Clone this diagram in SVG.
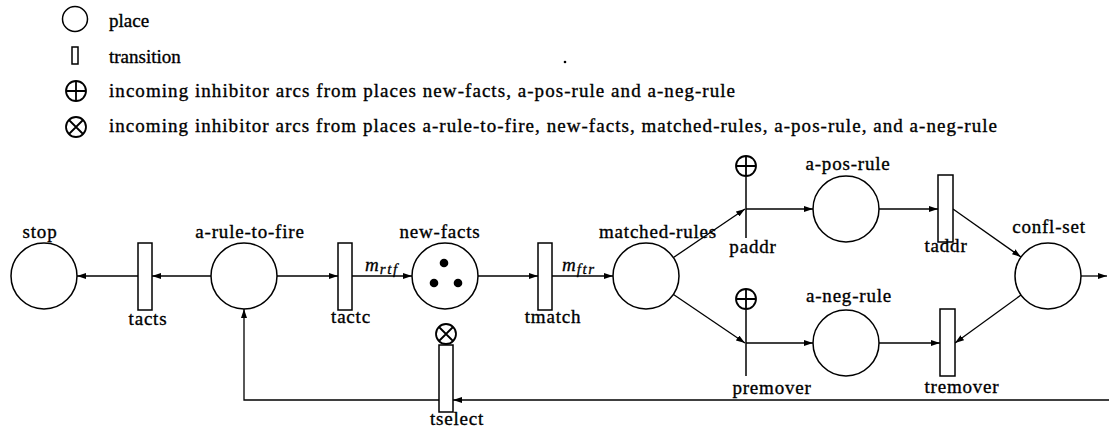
<svg xmlns="http://www.w3.org/2000/svg" width="1109" height="434" viewBox="0 0 1109 434">
  <style>
    .lbl { font-family: "Liberation Serif", "Times New Roman", serif; font-size: 19px; letter-spacing: 0.8px; fill: #000; stroke: #000; stroke-width: 0.35; }
    .leg { font-family: "Liberation Serif", "Times New Roman", serif; font-size: 19px; fill: #000; stroke: #000; stroke-width: 0.35; }
    .math { font-family: "Liberation Serif", "Times New Roman", serif; font-style: italic; font-size: 19px; fill: #000; stroke: #000; stroke-width: 0.3; }
    .sub { font-size: 15px; letter-spacing: 1.6px; }
    .place { fill: #fff; stroke: #000; stroke-width: 1.5; }
    .trans { fill: #fff; stroke: #000; stroke-width: 1.5; }
    .arc { fill: none; stroke: #000; stroke-width: 1.3; }
    .inh { fill: #fff; stroke: #000; stroke-width: 1.8; }
    .tok { fill: #000; }
  </style>
  <defs>
    <marker id="ah" viewBox="0 0 9 6" refX="9" refY="3" markerWidth="9" markerHeight="6" markerUnits="userSpaceOnUse" orient="auto">
      <path d="M0,0 L9,3 L0,6 z" fill="#000"/>
    </marker>
    <!-- inhibitor symbols: plus-circle and cross-circle -->
    <g id="oplus">
      <circle cx="0" cy="0" r="10" class="inh"/>
      <path d="M-10,0 H10 M0,-10 V10" stroke="#000" stroke-width="1.8"/>
    </g>
    <g id="otimes">
      <circle cx="0" cy="0" r="10" class="inh"/>
      <path d="M-7,-7 L7,7 M7,-7 L-7,7" stroke="#000" stroke-width="1.8"/>
    </g>
  </defs>
  <rect width="1109" height="434" fill="#fff"/>

  <!-- legend -->
  <g id="legend">
    <circle cx="75" cy="19" r="12.5" class="place"/>
    <text class="leg" x="109" y="27">place</text>
    <rect x="72" y="47" width="6" height="17" class="trans"/>
    <text class="leg" x="109" y="63">transition</text>
    <use href="#oplus" x="76" y="91"/>
    <text class="leg" x="109" y="97" textLength="626" lengthAdjust="spacing">incoming inhibitor arcs from places new-facts, a-pos-rule and a-neg-rule</text>
    <use href="#otimes" x="76" y="127"/>
    <text class="leg" x="109" y="132" textLength="888" lengthAdjust="spacing">incoming inhibitor arcs from places a-rule-to-fire, new-facts, matched-rules, a-pos-rule, and a-neg-rule</text>
    <circle cx="565" cy="62" r="1.3" fill="#000"/>
  </g>

  <!-- connectors -->
  <g id="arcs">
    <path class="arc" d="M211,276 H152" marker-end="url(#ah)"/>
    <path class="arc" d="M138,276 H77" marker-end="url(#ah)"/>
    <path class="arc" d="M277,276 H338" marker-end="url(#ah)"/>
    <path class="arc" d="M352,276 H412" marker-end="url(#ah)"/>
    <path class="arc" d="M478,276 H538" marker-end="url(#ah)"/>
    <path class="arc" d="M552,276 H613" marker-end="url(#ah)"/>
    <path class="arc" d="M673.5,257.5 L745,209" marker-end="url(#ah)"/>
    <path class="arc" d="M746,209 H813" marker-end="url(#ah)"/>
    <path class="arc" d="M879,209 H938" marker-end="url(#ah)"/>
    <path class="arc" d="M953,209 L1021,257" marker-end="url(#ah)"/>
    <path class="arc" d="M673.5,294.5 L745,343" marker-end="url(#ah)"/>
    <path class="arc" d="M746,343 H813" marker-end="url(#ah)"/>
    <path class="arc" d="M879,343 H940" marker-end="url(#ah)"/>
    <path class="arc" d="M1021,295 L955,343" marker-end="url(#ah)"/>
    <path class="arc" d="M1081,276 H1107" marker-end="url(#ah)"/>
    <path class="arc" d="M1109,400 H453" marker-end="url(#ah)"/>
    <path class="arc" d="M439,400 H244 V309" marker-end="url(#ah)"/>
    <text class="math" x="365" y="271">m<tspan class="sub" dx="1" dy="3">rtf</tspan></text>
    <text class="math" x="562" y="271">m<tspan class="sub" dx="1" dy="3">ftr</tspan></text>
  </g>

  <!-- places -->
  <g id="stop">
    <circle cx="44" cy="276" r="33" class="place"/>
    <text class="lbl" x="40" y="238" text-anchor="middle">stop</text>
  </g>
  <g id="a-rule-to-fire">
    <circle cx="244" cy="276" r="33" class="place"/>
    <text class="lbl" x="250" y="238" text-anchor="middle">a-rule-to-fire</text>
  </g>
  <g id="new-facts">
    <circle cx="445" cy="276" r="33" class="place"/>
    <circle cx="444" cy="263" r="4.3" class="tok"/>
    <circle cx="434" cy="283" r="4.3" class="tok"/>
    <circle cx="458" cy="283" r="4.3" class="tok"/>
    <text class="lbl" x="440" y="238" text-anchor="middle">new-facts</text>
  </g>
  <g id="matched-rules">
    <circle cx="646" cy="276" r="33" class="place"/>
    <text class="lbl" x="658" y="238" text-anchor="middle">matched-rules</text>
  </g>
  <g id="a-pos-rule">
    <circle cx="846" cy="209" r="33" class="place"/>
    <text class="lbl" x="848" y="170" text-anchor="middle">a-pos-rule</text>
  </g>
  <g id="a-neg-rule">
    <circle cx="846" cy="343" r="33" class="place"/>
    <text class="lbl" x="849" y="302" text-anchor="middle">a-neg-rule</text>
  </g>
  <g id="confl-set">
    <circle cx="1048" cy="276" r="33" class="place"/>
    <text class="lbl" x="1049" y="233" text-anchor="middle">confl-set</text>
  </g>

  <!-- transitions -->
  <g id="tacts">
    <rect x="138" y="243" width="14" height="67" class="trans"/>
    <text class="lbl" x="148" y="325" text-anchor="middle">tacts</text>
  </g>
  <g id="tactc">
    <rect x="338" y="243" width="14" height="67" class="trans"/>
    <text class="lbl" x="351" y="323" text-anchor="middle">tactc</text>
  </g>
  <g id="tmatch">
    <rect x="538" y="243" width="14" height="67" class="trans"/>
    <text class="lbl" x="553" y="323" text-anchor="middle">tmatch</text>
  </g>
  <g id="paddr">
    <path d="M746,177 V238" stroke="#000" stroke-width="1.5"/>
    <use href="#oplus" x="746" y="166"/>
    <text class="lbl" x="753" y="253" text-anchor="middle">paddr</text>
  </g>
  <g id="premover">
    <path d="M746,310 V376" stroke="#000" stroke-width="1.5"/>
    <use href="#oplus" x="746" y="299"/>
    <text class="lbl" x="772" y="394" text-anchor="middle">premover</text>
  </g>
  <g id="taddr">
    <rect x="938" y="175" width="15" height="67" class="trans"/>
    <text class="lbl" x="946" y="252" text-anchor="middle">taddr</text>
  </g>
  <g id="tremover">
    <rect x="940" y="309" width="15" height="67" class="trans"/>
    <text class="lbl" x="962" y="393" text-anchor="middle">tremover</text>
  </g>
  <g id="tselect">
    <rect x="439" y="345" width="14" height="67" class="trans"/>
    <use href="#otimes" x="446" y="334"/>
    <text class="lbl" x="457" y="425" text-anchor="middle">tselect</text>
  </g>
</svg>
